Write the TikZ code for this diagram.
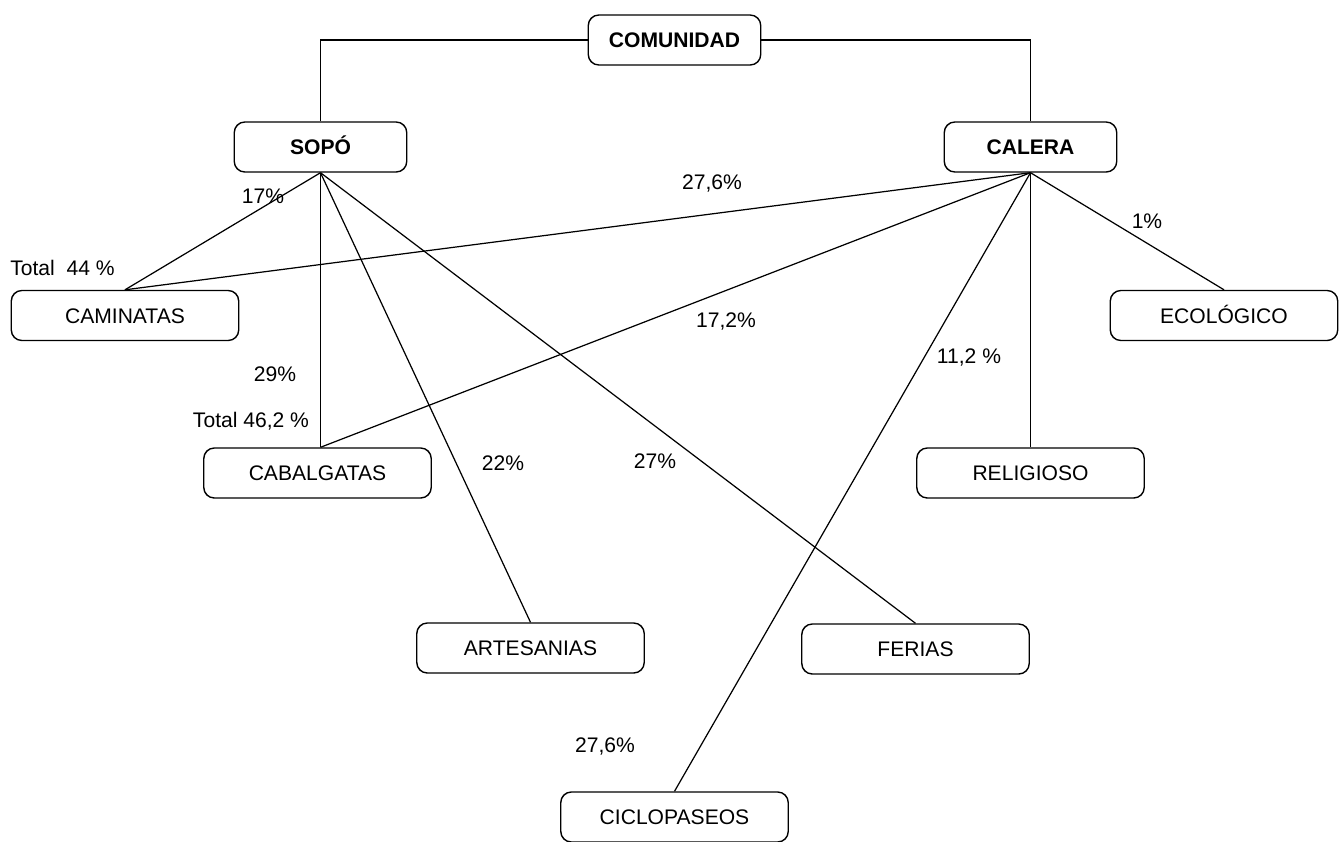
\documentclass[tikz,border=0pt]{standalone}
\usepackage{fontspec}
\setmainfont{Liberation Sans}
\usetikzlibrary{positioning}

\begin{document}
\begin{tikzpicture}[x=0.02cm,y=-0.02cm,every node/.style={font=\fontsize{12}{14}\selectfont},
  caja/.style={draw,line width=.8pt,rounded corners=6pt,minimum width=4.55cm,minimum height=1cm,inner sep=0pt,text height=8.6pt,text depth=0pt},
  cajab/.style={caja,minimum width=3.45cm,font=\fontsize{12}{14}\selectfont\bfseries},
  enlace/.style={line width=.7pt}]
\useasboundingbox (0,0) rectangle (1340,842);
\node[cajab] (com) at (674.5,40) {COMUNIDAD};
\node[cajab] (sopo) at (320.5,147) {SOPÓ};
\node[cajab] (calera) at (1030.5,147) {CALERA};
\node[caja] (cam) at (125,315.5) {CAMINATAS};
\node[caja] (cab) at (317.5,473) {CABALGATAS};
\node[caja] (art) at (530.5,648) {ARTESANIAS};
\node[caja] (fer) at (915.5,649) {FERIAS};
\node[caja] (rel) at (1030.5,473) {RELIGIOSO};
\node[caja] (eco) at (1224,315.5) {ECOLÓGICO};
\node[caja] (cic) at (674.5,817) {CICLOPASEOS};
\coordinate (cabtop) at (cab.north -| sopo.south);
\draw[enlace] (com.west) -| (sopo.north);
\draw[enlace] (com.east) -| (calera.north);
\draw[enlace] (sopo.south)--(cam.north);
\draw[enlace] (sopo.south)--(cabtop);
\draw[enlace] (sopo.south)--(art.north);
\draw[enlace] (sopo.south)--(fer.north);
\draw[enlace] (calera.south)--(cam.north);
\draw[enlace] (calera.south)--(cabtop);
\draw[enlace] (calera.south)--(cic.north);
\draw[enlace] (calera.south)--(rel.north);
\draw[enlace] (calera.south)--(eco.north);
\node (p1) at (263,196) {17\%};
\node[anchor=west,inner sep=0pt] (p2) at (10,268) {Total\ \ 44 \%};
\node (p3) at (712,183) {27,6\%};
\node (p4) at (1147,221) {1\%};
\node (p5) at (726,321) {17,2\%};
\node (p6) at (969,357) {11,2 \%};
\node (p7) at (275,374) {29\%};
\node (p8) at (251,421) {Total 46,2 \%};
\node (p9) at (503,463) {22\%};
\node (p10) at (655,461) {27\%};
\node (p11) at (605,746) {27,6\%};
\end{tikzpicture}
\end{document}
